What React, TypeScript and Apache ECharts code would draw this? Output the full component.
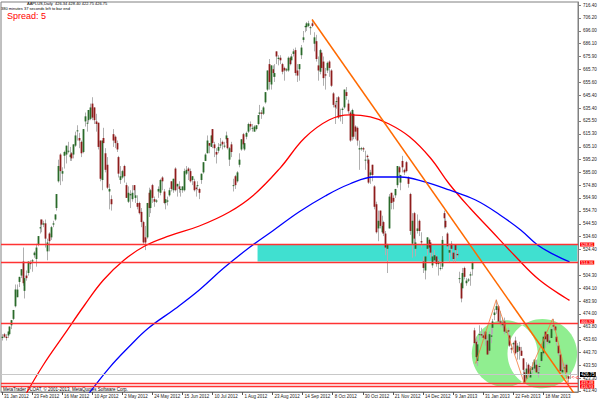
import React, { useEffect, useRef } from 'react';
import * as echarts from 'echarts';

// ---- axis labels ----
const dateLabels = ['31 Jan 2012', '23 Feb 2012', '16 Mar 2012', '10 Apr 2012', '2 May 2012', '24 May 2012', '15 Jun 2012', '10 Jul 2012', '1 Aug 2012', '23 Aug 2012', '14 Sep 2012', '8 Oct 2012', '30 Oct 2012', '21 Nov 2012', '14 Dec 2012', '9 Jan 2013', '31 Jan 2013', '22 Feb 2013', '18 Mar 2013'];
const barsPerLabel = 16;
const slotCount = 307;
// tick labels; 514.30 sits under the 514.36 price tag in the reference
const priceTicks = [716.4, 706.2, 696.0, 686.1, 675.9, 665.7, 655.6, 645.4, 635.4, 625.5, 615.3, 605.1, 595.2, 585.0, 574.8, 564.9, 554.7, 544.5, 534.6, 524.4, 504.3, 494.1, 483.9, 474.0, 463.8, 453.6, 443.7, 433.5, 423.3, 413.4];

// ---- daily candles [open, close, low, high] ----
const feb2012 = [[455,456,453,458],[458,456,455,459],[456,455,453,458],[457,460,455,460],[458,464,458,464],[465,469,462,469],[470,477,469,477],[480,493,479,497],[487,493,487,497],[499,503,495,503],[504,509,502,509],[515,498,496,526],[492,502,486,505],[504,502,500,508],[506,515,504,515],[514,513,509,516],[515,516,507,517],[520,522,518,523],[517,526,511,529],[528,535,527,535],[541,542,537,548]];
const mar2012 = [[548,544,538,548],[544,545,542,547],[545,533,526,548],[523,530,516,533],[537,531,523,538],[534,542,532,543],[544,545,542,547],[548,552,547,552],[557,568,555,568],[578,590,577,595],[599,586,575,600],[584,586,578,589],[598,601,588,602],[599,606,592,606],[602,602,600,609],[597,599,594,605],[600,596,594,601],[599,607,596,607],[606,614,605,617],[618,618,610,622],[612,610,604,616],[609,600,597,610]];
const apr2012 = [[601,619,600,619],[625,629,621,632],[624,624,617,626],[626,634,624,634],[627,636,626,639],[639,628,626,644],[636,626,623,636],[625,623,617,631],[624,605,603,624],[610,580,578,610],[579,610,571,610],[612,608,601,620],[600,587,585,604],[591,573,572,597],[570,572,556,576],[564,560,555,567],[615,610,605,619],[613,608,604,614],[608,603,601,610],[597,584,581,598]];
const may2012 = [[579,582,576,590],[581,586,580,587],[590,582,577,591],[575,565,565,577],[562,569,561,574],[567,568,557,571],[564,569,562,575],[575,571,567,575],[565,567,561,573],[561,558,556,567],[561,553,552,562],[554,546,542,557],[546,530,529,547],[534,530,524,543],[534,561,533,561],[569,557,550,573],[557,571,553,572],[575,565,561,576],[564,562,558,566],[562,563,561,564],[570,572,565,574],[569,579,567,580],[581,578,571,582]];
const jun2012 = [[570,561,560,572],[561,564,556,568],[562,563,559,566],[567,571,566,573],[578,572,570,578],[571,580,569,580],[588,571,570,589],[574,576,566,576],[574,572,569,578],[572,572,566,574],[571,574,569,574],[571,586,570,588],[584,587,583,590],[588,586,579,589],[586,578,577,588],[579,582,575,582],[578,571,570,580],[573,572,566,574],[575,575,571,578],[572,569,564,573],[579,584,576,584]];
const jul2012 = [[585,593,584,593],[594,599,594,600],[600,610,600,614],[608,606,600,608],[605,614,605,614],[619,608,604,619],[607,604,597,609],[601,599,592,604],[602,605,600,608],[606,607,604,612],[609,607,603,610],[606,606,604,609],[611,614,608,617],[612,604,603,613],[595,604,590,605],[607,601,597,609],[575,575,570,580],[582,575,572,583],[578,585,577,586],[591,595,589,600],[603,611,602,611]];
const aug2012 = [[615,607,604,616],[603,608,602,611],[613,616,611,617],[617,623,616,624],[623,621,618,625],[620,620,617,623],[617,621,617,622],[619,622,618,622],[623,630,622,630],[631,632,628,638],[632,631,627,634],[631,636,630,637],[640,648,639,648],[650,665,649,665],[670,656,650,674],[654,669,650,669],[666,663,660,669],[660,663,656,670],[680,676,670,680],[674,675,669,677],[675,673,670,677],[670,664,662,671],[667,665,657,668]];
const sep2012 = [[665,666,664,667],[665,675,664,676],[675,670,669,676],[673,676,670,678],[678,680,676,682],[681,663,661,683],[665,661,656,670],[666,670,657,670],[677,683,674,685],[689,691,687,696],[699,700,695,700],[699,702,696,703],[700,702,699,704],[699,699,693,700],[702,700,699,705],[686,691,680,695],[688,674,672,693],[669,665,657,676],[664,681,662,682],[679,667,665,681]];
const oct2012 = [[672,659,653,676],[662,661,650,667],[665,671,663,672],[672,667,660,673],[665,653,652,666],[647,638,636,648],[638,636,623,640],[641,641,635,644],[644,628,627,645],[629,630,625,635],[634,635,623,636],[636,650,635,650],[648,645,642,652],[639,633,631,642],[632,610,609,633],[613,634,610,635],[631,613,611,633],[621,617,611,622],[620,610,606,621],[603,604,587,610],[604,604,602,605],[604,603,601,605],[595,595,587,602]];
const nov2012 = [[598,597,592,599],[595,577,576,596],[583,585,576,587],[591,583,578,591],[574,558,556,575],[560,538,537,562],[541,547,531,555],[555,543,541,555],[538,543,537,551],[546,537,535,547],[537,526,520,539],[525,528,506,529],[541,566,541,568],[569,561,556,569],[565,562,556,567],[567,572,565,572],[575,590,573,590],[589,585,582,590],[577,583,571,583],[594,589,585,598],[587,585,583,588]];
const dec2012 = [[593,586,585,594],[581,576,573,582],[568,539,536,569],[529,547,518,553],[553,533,527,554],[525,530,519,538],[539,541,537,552],[547,539,535,548],[531,530,526,538],[515,510,506,519],[508,519,501,519],[525,534,520,534],[532,526,525,533],[530,522,518,530],[512,519,510,522],[516,520,515,524],[519,513,511,520],[513,515,504,517],[510,510,508,515],[511,532,509,535]];
const jan2013 = [[553,549,541,555],[547,542,541,549],[537,527,525,538],[522,524,515,529],[529,525,519,531],[522,517,515,522],[528,524,515,528],[521,520,518,525],[502,502,498,507],[498,486,483,499],[494,506,492,510],[510,503,501,511],[498,500,496,502],[500,501,499,502],[504,505,496,507],[509,514,504,515],[461,451,450,463],[452,440,435,456],[437,450,433,453],[458,458,453,465],[458,457,455,463],[457,455,454,460]];
const feb2013 = [[460,454,449,460],[453,442,442,457],[445,458,443,460],[456,457,451,463],[463,468,458,470],[473,475,469,478],[477,480,474,485],[480,468,467,481],[468,467,464,476],[465,467,463,471],[468,460,458,471],[460,460,459,461],[461,460,455,463],[457,449,448,458],[447,446,443,450],[450,451,446,452],[453,443,442,456],[444,449,438,451],[448,445,438,452],[445,441,441,448]];
const mar2013 = [[439,430,427,439],[428,420,419,430],[423,431,422,436],[434,426,424,435],[424,431,424,433],[430,432,427,436],[431,438,429,438],[434,428,428,438],[428,428,424,433],[433,433,429,435],[437,444,436,444],[443,456,441,457],[460,454,447,460],[458,452,450,458],[451,453,450,457],[455,462,455,463],[465,464,461,470],[464,461,460,464],[456,452,449,457],[449,443,441,451]];
const apr2013 = [[442,429,428,443],[428,430,426,436],[431,432,428,435],[434,428,425,435],[425,423,420,425],[426.34,426.75,422.75,428.4]];

// ---- moving averages [bar, price] ----
const maRed = [[12,409],[22,433.8],[33,457.4],[44,480.9],[54,500.5],[65,516.2],[76,527.2],[89,535.1],[105,542.9],[121,553.9],[134,567.3],[148,588.4],[161,612],[174,626.1],[185,630.1],[196,628.5],[206,623],[217,612.8],[228,596.3],[238,575.9],[249,557],[260,539.8],[273,519.4],[286,500.5],[302,484.5]];
const maBlue = [[44,407],[57,431.4],[68,448.7],[78,462.8],[92,477.8],[105,492.7],[118,509.9],[132,526.4],[144,539],[158,553.9],[172,566.5],[185,575.9],[198,581.4],[212,581.4],[225,577.5],[238,571.2],[252,563.3],[265,551.6],[276,539.8],[285,528],[294,520.2],[302,514.7]];

// ---- drawn objects ----
const trendLine = [[165, 705], [305, 410.3]];
const zigzag = [[252, 435], [263, 485], [278, 419], [293, 470], [301, 420]];
const redLevels = [528.81, 514.36, 466.92, 419.48, 416.93];
const redLabelShift = [0, 0, -2, -1, 0];
const bidPrice = 426.75;
const zoneBox = { fromBar: 136, toBar: 306, top: 528.2, bottom: 515.0 };
// ellipses: [barLeft, barRight, priceTop, priceBottom]
const ellipses = [[250, 285, 469, 416.5], [269, 306, 470, 415.5]];

const candles = [...feb2012, ...mar2012, ...apr2012, ...may2012, ...jun2012, ...jul2012, ...aug2012, ...sep2012, ...oct2012, ...nov2012, ...dec2012, ...jan2013, ...feb2013, ...mar2013, ...apr2013];
const candleRows = candles.map((d, i) => [i, d[0], d[1], d[2], d[3]]);
const levelRows = [...redLevels.map((v, k) => [0, v, 0, redLabelShift[k]]), [0, bidPrice, 1, 0]];
const categories = Array.from({ length: slotCount }, (_, i) => String(i));

const FONT = 'Liberation Sans';

function candleRender(params: any, api: any) {
  const i = api.value(0);
  const o = api.value(1), c = api.value(2), l = api.value(3), h = api.value(4);
  const po = api.coord([i, o]);
  const pc = api.coord([i, c]);
  const pl = api.coord([i, l]);
  const ph = api.coord([i, h]);
  const x = Math.round(po[0]) + 0.5;
  const w = 1.8;
  const top = Math.min(po[1], pc[1]);
  const hgt = Math.max(Math.abs(po[1] - pc[1]), 1);
  return {
    type: 'group',
    children: [
      { type: 'line', shape: { x1: x, y1: ph[1], x2: x, y2: pl[1] }, style: { stroke: '#b0b0b0', lineWidth: 1 } },
      { type: 'rect', shape: { x: x - w / 2, y: top, width: w, height: hgt }, style: { fill: c >= o ? '#2a6a2a' : '#8e1c1c', stroke: null } },
    ],
  };
}

function levelRender(params: any, api: any) {
  const v = api.value(1);
  const kind = api.value(2);
  const shift = api.value(3);
  const cs = params.coordSys;
  const y = Math.round(api.coord([0, v])[1]) + 0.5;
  const red = kind === 0;
  return {
    type: 'group',
    children: [
      { type: 'line', shape: { x1: cs.x, y1: y, x2: cs.x + cs.width, y2: y }, style: { stroke: red ? '#ff3333' : '#c8c8c8', lineWidth: red ? 1.3 : 1 } },
      {
        type: 'text', x: cs.x + cs.width + 2, y: y + shift,
        style: { text: v.toFixed(2), fill: '#ffffff', backgroundColor: red ? '#ff0000' : '#000000', padding: [0, 1], fontSize: red ? 4 : 4.5, fontFamily: FONT, verticalAlign: 'middle', align: 'left' },
      },
    ],
  };
}

function ellipseRender(params: any, api: any) {
  const sh = ellipses.map((e) => {
    const a = api.coord([e[0], e[2]]);
    const b = api.coord([e[1], e[3]]);
    return { cx: (a[0] + b[0]) / 2, cy: (a[1] + b[1]) / 2, rx: Math.abs(b[0] - a[0]) / 2, ry: Math.abs(b[1] - a[1]) / 2 };
  });
  const inside = (p: number[], s: any) => ((p[0] - s.cx) / s.rx) ** 2 + ((p[1] - s.cy) / s.ry) ** 2 <= 1;
  const pts: number[][] = [];
  const steps = 240;
  for (let k = 0; k < steps; k++) {
    const t = (k / steps) * Math.PI * 2;
    const p0 = [sh[0].cx + sh[0].rx * Math.cos(t), sh[0].cy + sh[0].ry * Math.sin(t)];
    if (inside(p0, sh[1])) pts.push(p0);
    const p1 = [sh[1].cx + sh[1].rx * Math.cos(t), sh[1].cy + sh[1].ry * Math.sin(t)];
    if (inside(p1, sh[0])) pts.push(p1);
  }
  const c = [0, 0];
  pts.forEach((p) => { c[0] += p[0] / pts.length; c[1] += p[1] / pts.length; });
  pts.sort((p, q) => Math.atan2(p[1] - c[1], p[0] - c[0]) - Math.atan2(q[1] - c[1], q[0] - c[0]));
  const tp = api.coord([302, 424]);
  return {
    type: 'group',
    children: [
      ...sh.map((s) => ({ type: 'ellipse', shape: s, style: { fill: '#90ee90' } })),
      { type: 'polygon', shape: { points: pts }, style: { fill: '#ffffff' } },
      { type: 'text', x: tp[0] + 2, y: tp[1] - 3, style: { text: '<-c', fill: '#ff0000', fontSize: 5, fontFamily: FONT } },
    ],
  };
}

const option: any = {
  animation: false,
  backgroundColor: '#ffffff',
  grid: { left: 1, right: 22, top: 2, bottom: 8, show: true, borderColor: '#808080', borderWidth: 1, backgroundColor: '#ffffff' },
  xAxis: {
    type: 'category',
    data: categories,
    boundaryGap: true,
    axisLine: { show: true, onZero: false, lineStyle: { color: '#808080' } },
    axisTick: { show: true, alignWithLabel: true, length: 3, interval: (i: number) => i % barsPerLabel === 0 && i / barsPerLabel < dateLabels.length, lineStyle: { color: '#555' } },
    axisLabel: {
      interval: (i: number) => i % barsPerLabel === 0 && i / barsPerLabel < dateLabels.length,
      formatter: (_v: string, i: number) => (i % barsPerLabel === 0 ? dateLabels[i / barsPerLabel] || '' : ''),
      align: 'left', fontSize: 4.5, color: '#222', margin: 2, padding: [0, 0, 0, 2], fontFamily: FONT,
    },
    splitLine: { show: false },
  },
  yAxis: {
    type: 'value',
    position: 'right',
    min: 412.6,
    max: 718.76,
    splitLine: { show: false },
    axisLine: { show: true, lineStyle: { color: '#808080' } },
    axisTick: { show: true, customValues: priceTicks, length: 3, lineStyle: { color: '#808080' } },
    axisLabel: { customValues: priceTicks, formatter: (v: number) => v.toFixed(2), fontSize: 4.5, color: '#222', margin: 5, fontFamily: FONT },
  },
  graphic: [
    { type: 'text', left: 27, top: 1, style: { text: 'AAPLUS,Daily  426.34 428.40 422.75 426.75', fontSize: 4, fill: '#000', fontFamily: FONT } },
    { type: 'text', left: 1, top: 6, style: { text: '380 minutes 37 seconds left to bar end', fontSize: 4, fill: '#000', fontFamily: FONT } },
    { type: 'text', left: 7, top: 11, style: { text: 'Spread: 5', fontSize: 9, fill: '#ff0000', fontFamily: FONT } },
    { type: 'text', left: 3, top: 387, style: { text: 'MetaTrader FLOAT, \u00a9 2001-2013, MetaQuotes Software Corp.', fontSize: 4.5, fill: '#000', fontFamily: FONT } },
  ],
  series: [
    { type: 'custom', z: 1, data: [[0, 450]], renderItem: ellipseRender, silent: true },
    {
      type: 'line', z: 1, data: [], silent: true,
      markArea: {
        silent: true,
        itemStyle: { color: '#40e0d0', opacity: 1 },
        data: [[{ xAxis: zoneBox.fromBar, yAxis: zoneBox.top }, { xAxis: zoneBox.toBar, yAxis: zoneBox.bottom }]],
      },
    },
    { type: 'custom', z: 3, data: candleRows, renderItem: candleRender, silent: true, encode: { x: 0, y: [1, 2, 3, 4] } },
    { type: 'line', z: 4, data: maRed, smooth: 0.4, showSymbol: false, lineStyle: { color: '#ff0000', width: 1.3 } },
    { type: 'line', z: 4, data: maBlue, smooth: 0.4, showSymbol: false, lineStyle: { color: '#0000ff', width: 1.3 } },
    { type: 'line', z: 5, data: trendLine, showSymbol: false, lineStyle: { color: '#ff6a00', width: 1.5 } },
    { type: 'line', z: 5, data: zigzag, showSymbol: false, lineStyle: { color: '#f47a3a', width: 0.8 } },
    { type: 'custom', z: 6, data: levelRows, renderItem: levelRender, silent: true, clip: false, encode: { x: 0, y: 1 } },
  ],
};

export default function App() {
  const ref = useRef<HTMLDivElement>(null);
  useEffect(() => {
    const chart = echarts.init(ref.current!, null, { renderer: 'svg' });
    chart.setOption(option);
    return () => chart.dispose();
  }, []);
  return <div ref={ref} style={{ position: 'fixed', left: 0, top: 0, width: 600, height: 400, background: '#fff' }} />;
}
